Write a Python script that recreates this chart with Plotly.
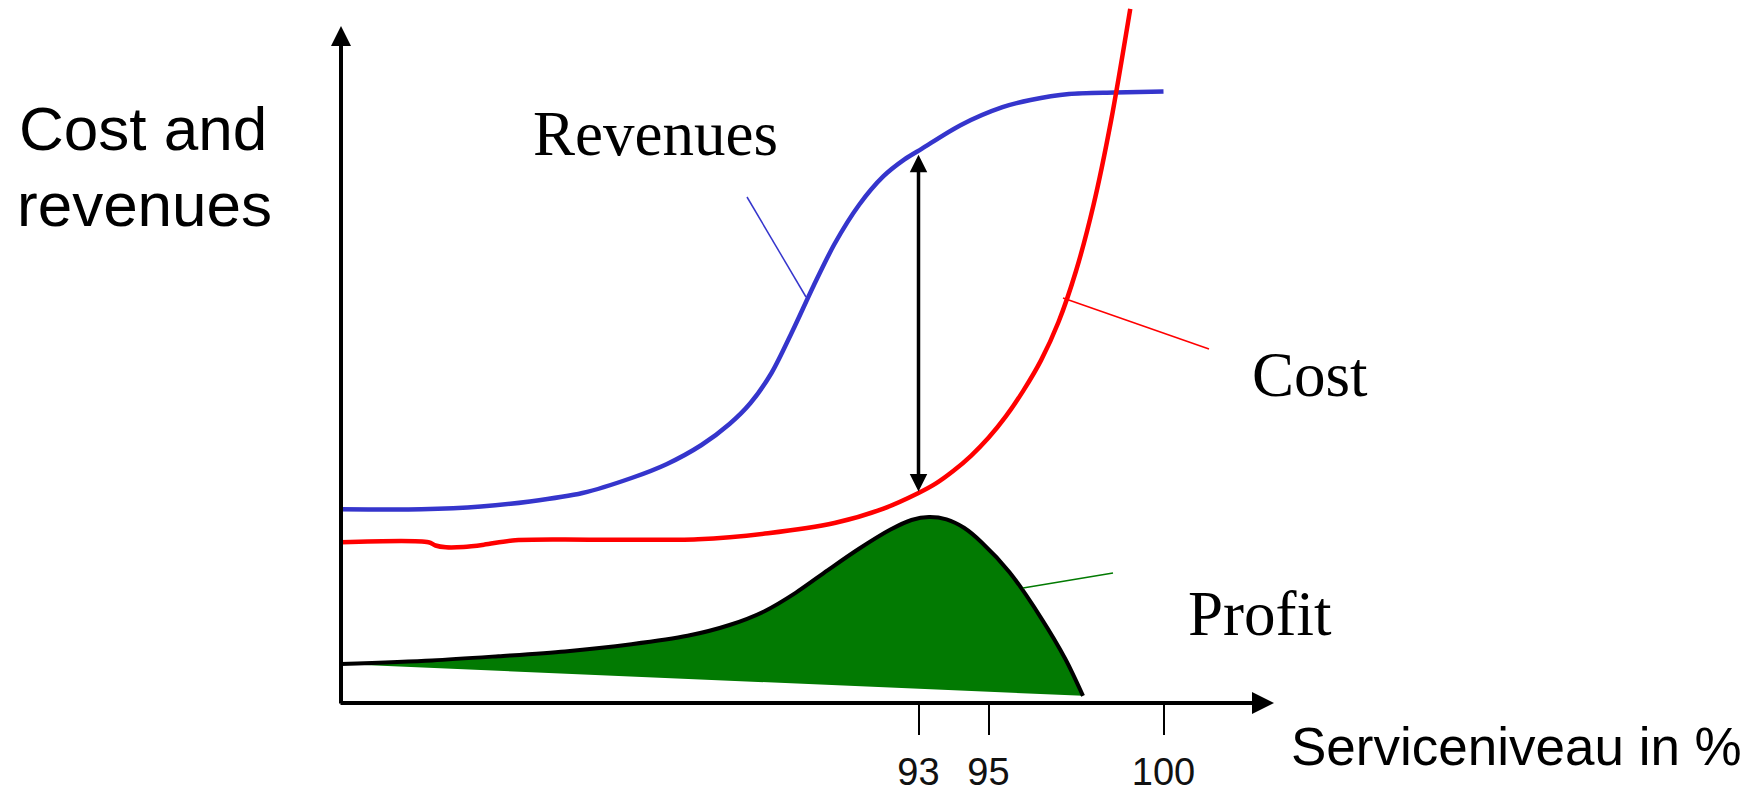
import numpy as np
import plotly.graph_objects as go

# ---- data (service level in %, values in chart units) ----
revenue_level = [76.5, 78.8, 80.5, 81.9, 83.4, 84.8, 85.8, 86.8, 87.6, 88.2, 88.8, 89.4,
                 90.0, 90.6, 91.3, 92.0, 92.6, 93.1, 94.2, 95.4, 96.2, 97.3, 98.6, 100.0]
revenue = [32.3, 32.3, 32.75, 33.6, 35.0, 37.5, 39.8, 43.0, 46.5, 50.0, 55.0, 62.0,
           69.5, 76.5, 83.0, 87.8, 90.6, 92.4, 96.3, 99.3, 100.5, 101.5, 101.75, 101.9]

cost_level = [76.5, 79.0, 79.2, 79.5, 80.0, 80.6, 81.4, 82.8, 84.3, 86.7, 88.7, 90.6,
              92.0, 93.0, 93.5, 94.0, 94.5, 95.0, 95.5, 96.0, 96.5, 97.0, 97.5, 98.0,
              98.5, 99.05]
cost = [26.8, 26.8, 26.25, 25.95, 26.0, 26.4, 27.1, 27.25, 27.2, 27.3, 28.3, 30.0,
        32.4, 35.0, 36.6, 38.7, 41.2, 44.2, 47.8, 52.1, 57.1, 63.5, 72.0, 83.0,
        97.0, 115.7]

profit_level = [76.5, 79.1, 81.0, 82.9, 84.8, 86.4, 87.6, 88.6, 89.5, 90.4, 91.3, 92.2,
                92.8, 93.3, 93.8, 94.3, 94.8, 95.6, 96.5, 97.2, 97.7]
profit = [6.5, 7.1, 7.8, 8.6, 9.8, 11.2, 13.0, 15.3, 18.4, 22.1, 25.7, 28.9,
          30.5, 31.0, 30.6, 29.2, 26.8, 21.8, 14.2, 7.3, 1.2]
profit_floor_level = [76.5, 97.7]
profit_floor = [6.5, 1.2]

tick_values = [93, 95, 100]
tick_labels = ["93", "95", "100"]
optimum_level = 93

# ---- canvas geometry: chart units <-> pixels ----
W, H = 1760, 792
X0_PX, Y0_PX = 341, 703          # where the two axes meet
PX_PER_X, PX_PER_Y = 35.0, 6.0
x_origin = revenue_level[0]


def X(px):
    return x_origin + (px - X0_PX) / PX_PER_X


def Y(py):
    return (Y0_PX - py) / PX_PER_Y


BLUE = "#3535cc"
RED = "#ff0000"
GREEN = "#027a02"
SANS = "Liberation Sans, Arial, sans-serif"
SERIF = "Liberation Serif, Times New Roman, serif"
SMOOTH = 0.85

fig = go.Figure()

# profit area: between the profit curve and its sloping floor
fig.add_trace(go.Scatter(x=profit_floor_level, y=profit_floor, mode="lines",
                         line=dict(width=0, color="rgba(0,0,0,0)"),
                         hoverinfo="skip", showlegend=False))
fig.add_trace(go.Scatter(x=profit_level, y=profit, mode="lines", fill="tonexty",
                         fillcolor=GREEN,
                         line=dict(color="black", width=4, shape="spline", smoothing=SMOOTH),
                         showlegend=False))
fig.add_trace(go.Scatter(x=revenue_level, y=revenue, mode="lines",
                         line=dict(color=BLUE, width=4.5, shape="spline", smoothing=SMOOTH),
                         showlegend=False))
fig.add_trace(go.Scatter(x=cost_level, y=cost, mode="lines",
                         line=dict(color=RED, width=4.5, shape="spline", smoothing=SMOOTH),
                         showlegend=False))

# leader lines from the curve labels
leaders = [
    (X(747), Y(197), X(806), Y(297), BLUE),
    (X(1063), Y(298), X(1209), Y(349), RED),
    (X(1023), Y(588), X(1113), Y(573), GREEN),
]
for x0, y0, x1, y1, col in leaders:
    fig.add_shape(type="line", xref="x", yref="y", x0=x0, y0=y0, x1=x1, y1=y1,
                  line=dict(color=col, width=1.5))

annotations = []

# axes drawn as arrows
annotations.append(dict(x=X(1274), y=0, ax=X(339), ay=0, xref="x", yref="y",
                        axref="x", ayref="y", text="", showarrow=True,
                        arrowhead=2, arrowsize=1.1, arrowwidth=4, arrowcolor="black"))
annotations.append(dict(x=x_origin, y=Y(26), ax=x_origin, ay=Y(705), xref="x", yref="y",
                        axref="x", ayref="y", text="", showarrow=True,
                        arrowhead=2, arrowsize=1.0, arrowwidth=4, arrowcolor="black"))

# gap between revenue and cost at the optimum service level
rev_opt = float(np.interp(optimum_level, revenue_level, revenue))
cost_opt = float(np.interp(optimum_level, cost_level, cost))
annotations.append(dict(x=optimum_level, y=rev_opt, ax=optimum_level, ay=cost_opt,
                        xref="x", yref="y", axref="x", ayref="y", text="",
                        showarrow=True, arrowside="end+start",
                        arrowhead=2, startarrowhead=2, arrowsize=1.0, startarrowsize=1.0,
                        arrowwidth=3.5, arrowcolor="black", standoff=4, startstandoff=0))


def label(text, cx, baseline, size, family, xanchor="center", asc=0.3465):
    annotations.append(dict(x=X(cx), y=Y(baseline - asc * size), xref="x", yref="y",
                            text=text, showarrow=False, xanchor=xanchor, yanchor="middle",
                            font=dict(family=family, size=size, color="black")))


label("Revenues", 655, 155, 63, SERIF, asc=0.3375)
label("Cost", 1310, 396, 63, SERIF, asc=0.3375)
label("Profit", 1260, 635, 63, SERIF, asc=0.3375)
label("Cost and", 143, 150, 62, SANS)
label("revenues", 144, 226, 62, SANS)
label("Serviceniveau in %", 1289, 765, 53, SANS, xanchor="left")

fig.update_layout(
    width=W, height=H,
    margin=dict(l=0, r=0, t=0, b=0, pad=0),
    paper_bgcolor="white", plot_bgcolor="white",
    showlegend=False,
    annotations=annotations,
    xaxis=dict(range=[X(0), X(W)], domain=[0, 1], anchor="free",
               position=(H - Y0_PX) / H,
               showgrid=False, zeroline=False, showline=False,
               ticks="outside", ticklen=31, tickwidth=2, tickcolor="black",
               tickmode="array", tickvals=tick_values, ticktext=tick_labels,
               tickfont=dict(family=SANS, size=38, color="#111111"),
               ticklabelstandoff=4,
               fixedrange=True),
    yaxis=dict(range=[Y(H), Y(0)], domain=[0, 1], visible=False, fixedrange=True),
)

fig.write_html("out.html")
